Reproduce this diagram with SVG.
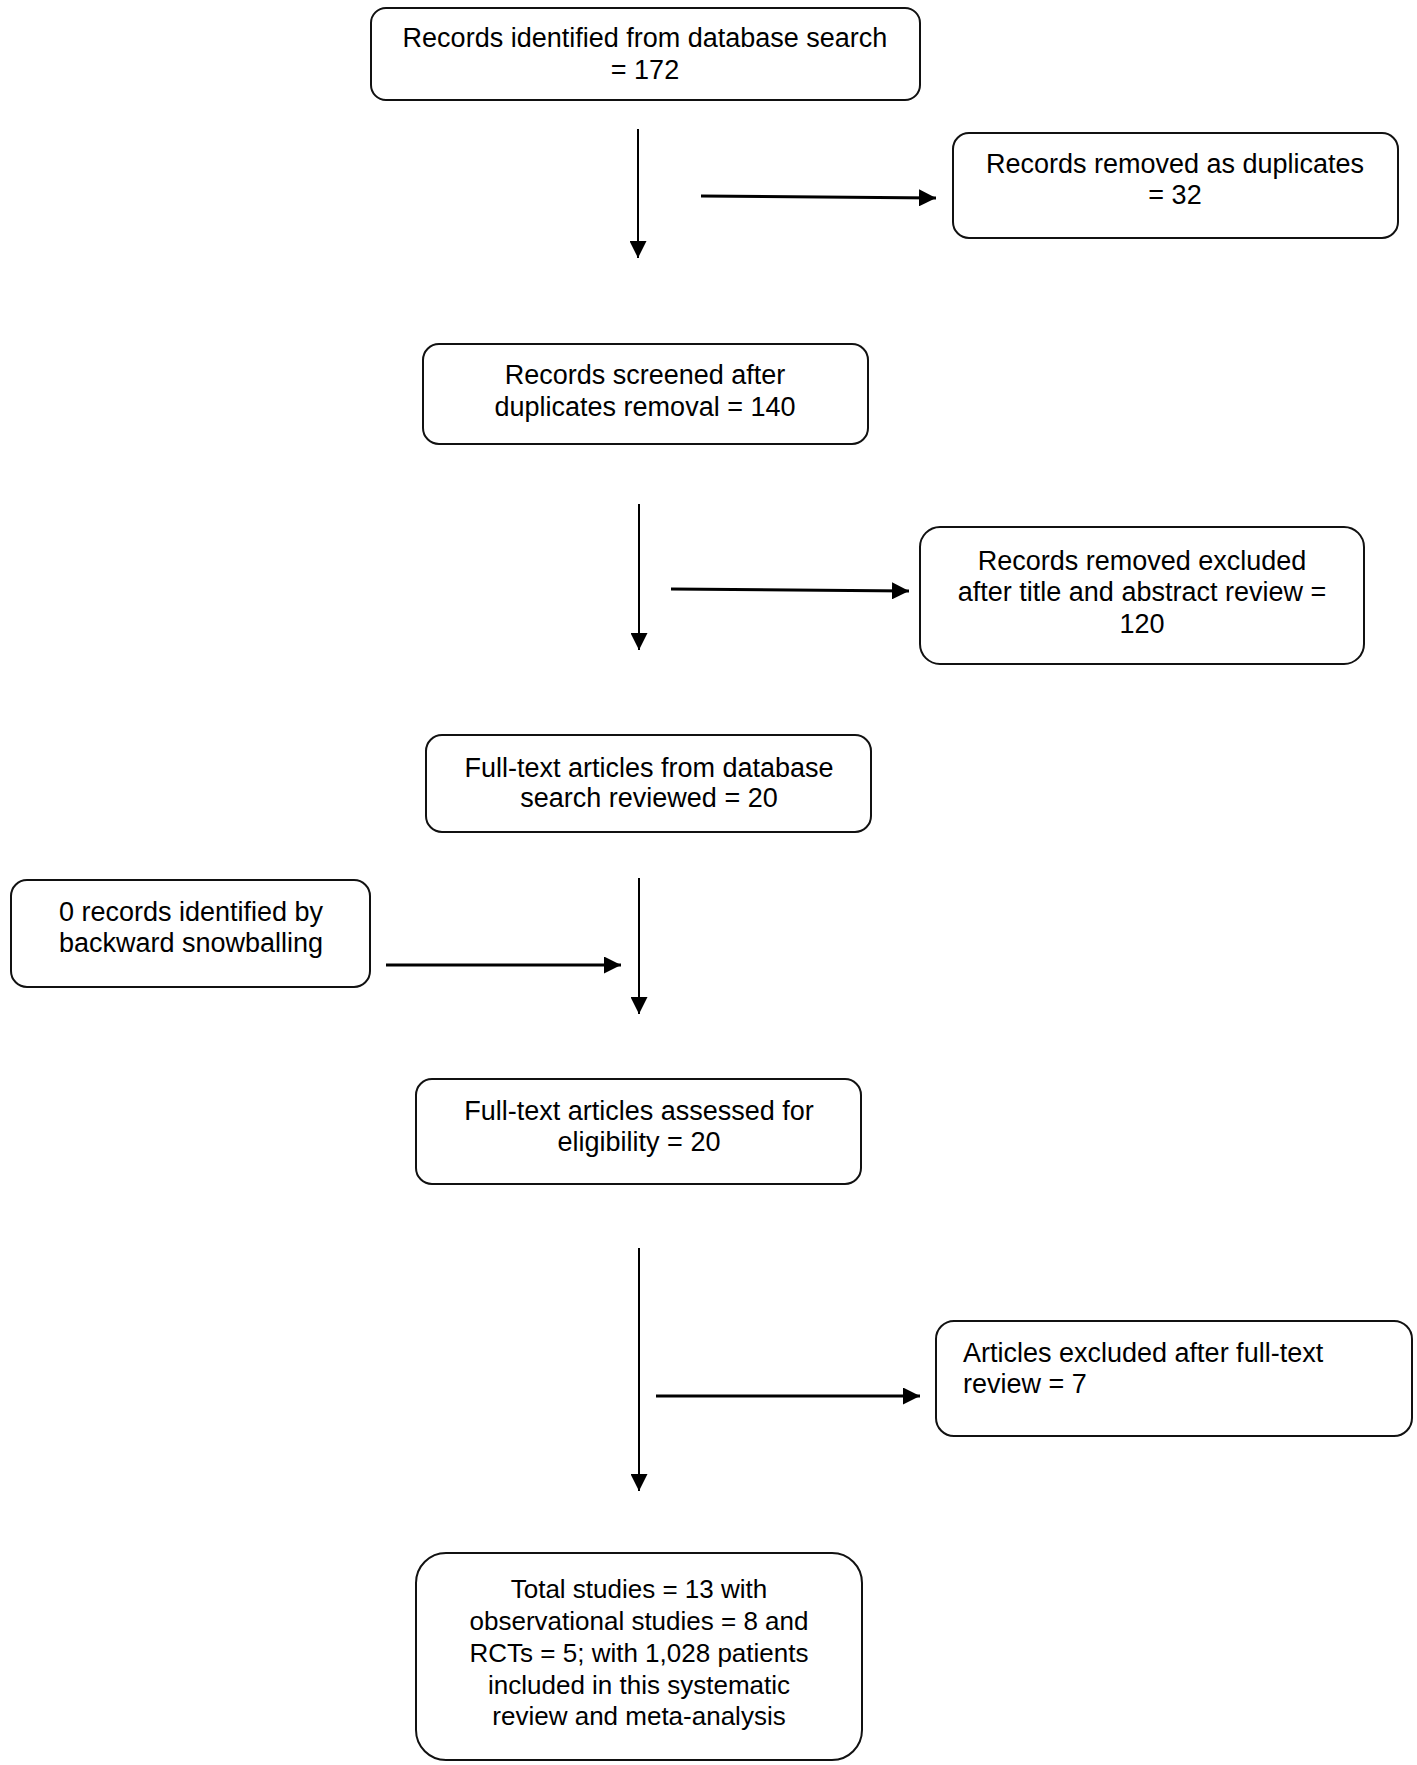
<svg xmlns="http://www.w3.org/2000/svg" width="1417" height="1765" viewBox="0 0 1417 1765">
<style>
.box{fill:#fff;stroke:#111;stroke-width:2}
.t{font-family:"Liberation Sans",Arial,sans-serif;font-size:27px;fill:#000;text-anchor:middle}
.tl{font-family:"Liberation Sans",Arial,sans-serif;font-size:27px;fill:#000;text-anchor:start}
.ts{font-family:"Liberation Sans",Arial,sans-serif;font-size:26px;fill:#000;text-anchor:middle}
.v{stroke:#000;stroke-width:2;fill:none}
.h{stroke:#000;stroke-width:3;fill:none}
</style>
<defs>
<marker id="ah" markerUnits="userSpaceOnUse" markerWidth="17" markerHeight="17" refX="17" refY="8.5" orient="auto">
<path d="M0,0 L17,8.5 L0,17 z" fill="#000"/>
</marker>
</defs>
<rect width="1417" height="1765" fill="#fff"/>
<g id="connectors">
<line class="v" x1="638" y1="129" x2="638" y2="258" marker-end="url(#ah)"/>
<line class="h" x1="701" y1="196" x2="936" y2="198" marker-end="url(#ah)"/>
<line class="v" x1="639" y1="504" x2="639" y2="650" marker-end="url(#ah)"/>
<line class="h" x1="671" y1="589" x2="909" y2="591" marker-end="url(#ah)"/>
<line class="v" x1="639" y1="878" x2="639" y2="1014" marker-end="url(#ah)"/>
<line class="h" x1="386" y1="965" x2="621" y2="965" marker-end="url(#ah)"/>
<line class="v" x1="639" y1="1248" x2="639" y2="1491" marker-end="url(#ah)"/>
<line class="h" x1="656" y1="1396" x2="920" y2="1396" marker-end="url(#ah)"/>
</g>
<g id="n1">
<rect class="box" x="371" y="8" width="549" height="92" rx="15"/>
<text class="t" x="645" y="47">Records identified from database search</text>
<text class="t" x="645" y="79">= 172</text>
</g>
<g id="n2">
<rect class="box" x="953" y="133" width="445" height="105" rx="16"/>
<text class="t" x="1175" y="173">Records removed as duplicates</text>
<text class="t" x="1175" y="204">= 32</text>
</g>
<g id="n3">
<rect class="box" x="423" y="344" width="445" height="100" rx="16"/>
<text class="t" x="645" y="384">Records screened after</text>
<text class="t" x="645" y="416">duplicates removal = 140</text>
</g>
<g id="n4">
<rect class="box" x="920" y="527" width="444" height="137" rx="20"/>
<text class="t" x="1142" y="570">Records removed excluded</text>
<text class="t" x="1142" y="601">after title and abstract review =</text>
<text class="t" x="1142" y="633">120</text>
</g>
<g id="n5">
<rect class="box" x="426" y="735" width="445" height="97" rx="16"/>
<text class="t" x="649" y="777">Full-text articles from database</text>
<text class="t" x="649" y="807">search reviewed = 20</text>
</g>
<g id="n6">
<rect class="box" x="11" y="880" width="359" height="107" rx="16"/>
<text class="t" x="191" y="921">0 records identified by</text>
<text class="t" x="191" y="952">backward snowballing</text>
</g>
<g id="n7">
<rect class="box" x="416" y="1079" width="445" height="105" rx="16"/>
<text class="t" x="639" y="1120">Full-text articles assessed for</text>
<text class="t" x="639" y="1151">eligibility = 20</text>
</g>
<g id="n8">
<rect class="box" x="936" y="1321" width="476" height="115" rx="18"/>
<text class="tl" x="963" y="1362">Articles excluded after full-text</text>
<text class="tl" x="963" y="1393">review = 7</text>
</g>
<g id="n9">
<rect class="box" x="416" y="1553" width="446" height="207" rx="30"/>
<text class="ts" x="639" y="1598">Total studies = 13 with</text>
<text class="ts" x="639" y="1630">observational studies = 8 and</text>
<text class="ts" x="639" y="1662">RCTs = 5; with 1,028 patients</text>
<text class="ts" x="639" y="1694">included in this systematic</text>
<text class="ts" x="639" y="1725">review and meta-analysis</text>
</g>
</svg>
